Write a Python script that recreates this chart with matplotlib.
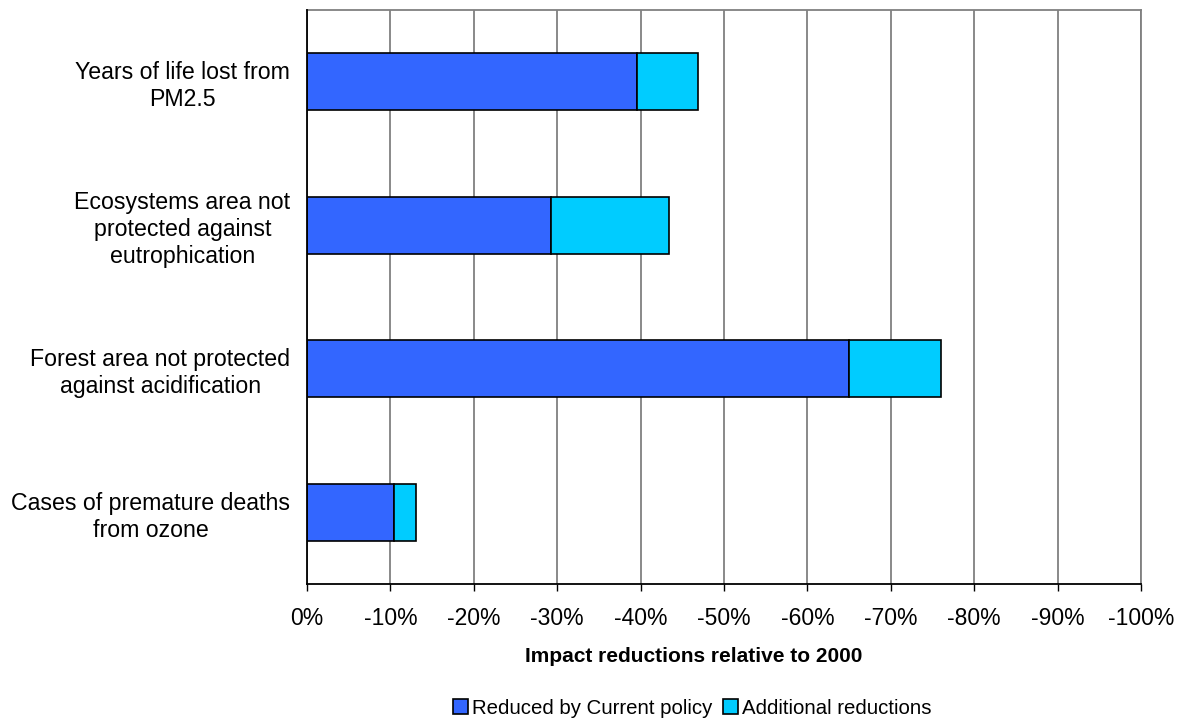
import matplotlib.pyplot as plt
from matplotlib.ticker import FuncFormatter

plt.rcParams['font.family'] = ['Liberation Sans', 'DejaVu Sans']

# impact categories, top to bottom
categories = [
    "Years of life lost from\nPM2.5",
    "Ecosystems area not\nprotected against\neutrophication",
    "Forest area not protected\nagainst acidification",
    "Cases of premature deaths\nfrom ozone",
]
current_policy = [-39.6, -29.3, -65.0, -10.4]   # % change vs 2000
additional = [-7.3, -14.1, -11.0, -2.7]
series_names = ["Reduced by Current policy", "Additional reductions"]
xticks = list(range(0, -101, -10))

blue = "#3366ff"
cyan = "#00ccff"

fig = plt.figure(figsize=(11.77, 7.19), dpi=100)
ax = fig.add_axes([307/1177, 1 - 584/719, (1141-307)/1177, (584-10)/719])

pos = list(range(len(categories)))
ax.barh(pos, current_policy, height=0.4, color=blue, edgecolor="black",
        linewidth=1.2, label=series_names[0], zorder=3)
ax.barh(pos, additional, left=current_policy, height=0.4, color=cyan,
        edgecolor="black", linewidth=1.2, label=series_names[1], zorder=3)

ax.set_xlim(0, -100)
ax.set_ylim(len(categories) - 0.5, -0.5)
ax.set_xticks(xticks)
ax.xaxis.set_major_formatter(FuncFormatter(lambda v, p: f"{v:.0f}%"))
ax.set_yticks(pos)
ax.set_yticklabels(categories, ha="right", multialignment="center",
                   fontsize=16.7, linespacing=1.22)
ax.tick_params(axis="y", length=0, pad=12)
ax.tick_params(axis="x", length=5, width=1, color="black", pad=11.5,
               labelsize=16.5)

ax.grid(axis="x", color="#808080", linewidth=1.3, zorder=0)
ax.set_axisbelow(True)
for s in ("top", "right"):
    ax.spines[s].set_color("#808080")
    ax.spines[s].set_linewidth(1.3)
for s in ("left", "bottom"):
    ax.spines[s].set_color("black")
    ax.spines[s].set_linewidth(1.3)
ax.spines["left"].set_zorder(4)

fig.text(694/1177, 1 - 657/719, "Impact reductions relative to 2000",
         fontsize=15, fontweight="bold", ha="center", va="center")

fig.legend(loc="center", bbox_to_anchor=(692/1177, 1 - 708/719), ncol=2,
           frameon=False, fontsize=14.7, handlelength=0.75, handleheight=0.75,
           handletextpad=0.2, columnspacing=0.5)

fig.savefig("out.png", dpi=100)
